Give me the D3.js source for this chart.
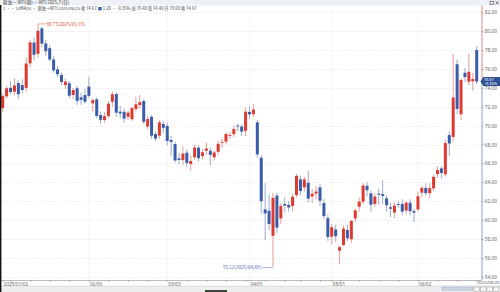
<!DOCTYPE html>
<html><head><meta charset="utf-8">
<script src="https://cdn.jsdelivr.net/npm/d3@7"></script>
<style>
html,body{margin:0;padding:0;background:#fff;}
svg{display:block;font-family:"Noto Sans CJK SC","Noto Sans",sans-serif;}
</style></head><body>
<svg id="c" width="500" height="292"></svg>
<script>
// ---------- data ----------
const dates = [
"2025-01-02","2025-01-03","2025-01-06","2025-01-07","2025-01-08","2025-01-09","2025-01-10","2025-01-13","2025-01-14","2025-01-15","2025-01-16","2025-01-17","2025-01-20","2025-01-21","2025-01-22","2025-01-23","2025-01-24","2025-01-27","2025-01-28","2025-01-29","2025-01-30","2025-01-31",
"2025-02-03","2025-02-04","2025-02-05","2025-02-06","2025-02-07","2025-02-10","2025-02-11","2025-02-12","2025-02-13","2025-02-14","2025-02-17","2025-02-18","2025-02-19","2025-02-20","2025-02-21","2025-02-24","2025-02-25","2025-02-26","2025-02-27","2025-02-28",
"2025-03-03","2025-03-04","2025-03-05","2025-03-06","2025-03-07","2025-03-10","2025-03-11","2025-03-12","2025-03-13","2025-03-14","2025-03-17","2025-03-18","2025-03-19","2025-03-20","2025-03-21","2025-03-24","2025-03-25","2025-03-26","2025-03-27","2025-03-28","2025-03-31",
"2025-04-01","2025-04-02","2025-04-03","2025-04-04","2025-04-07","2025-04-08","2025-04-09","2025-04-10","2025-04-11","2025-04-14","2025-04-15","2025-04-16","2025-04-17","2025-04-21","2025-04-22","2025-04-23","2025-04-24","2025-04-25","2025-04-28","2025-04-29","2025-04-30",
"2025-05-01","2025-05-02","2025-05-05","2025-05-06","2025-05-07","2025-05-08","2025-05-09","2025-05-12","2025-05-13","2025-05-14","2025-05-15","2025-05-16","2025-05-19","2025-05-20","2025-05-21","2025-05-22","2025-05-23","2025-05-26","2025-05-27","2025-05-28","2025-05-29","2025-05-30",
"2025-06-02","2025-06-03","2025-06-04","2025-06-05","2025-06-06","2025-06-09","2025-06-10","2025-06-11","2025-06-12","2025-06-13","2025-06-16","2025-06-17","2025-06-18","2025-06-19","2025-06-20","2025-06-23"];

const opens = [
71.85,73.10,74.00,73.60,74.50,74.30,74.00,76.60,78.80,77.60,
80.30,78.70,78.20,77.00,75.96,75.36,74.30,74.48,73.24,73.95,
73.00,73.24,74.12,72.36,72.78,71.12,70.59,71.01,72.53,73.35,
71.47,71.47,70.94,70.67,71.76,72.18,72.60,69.90,70.94,69.11,
68.93,70.17,69.96,68.47,68.05,66.53,66.35,67.13,65.93,66.64,
67.66,66.78,67.34,67.34,66.64,67.23,68.19,68.30,68.95,69.10,
70.00,69.90,69.45,71.45,71.20,70.35,66.60,61.13,60.98,58.33,
62.60,60.17,61.70,61.60,61.48,62.65,64.31,63.46,63.95,62.50,
62.80,63.46,61.80,60.20,58.23,59.00,56.75,57.35,58.94,57.96,
60.17,61.41,61.94,63.63,62.82,61.70,62.80,62.75,62.30,61.35,
60.80,61.70,61.70,61.00,61.83,60.95,61.13,62.90,63.40,62.85,
63.35,64.87,65.47,64.85,69.00,68.80,76.50,71.20,75.60,74.65,
74.70,78.00];

const highs = [
73.40,74.20,74.70,75.00,74.80,74.90,77.20,79.10,79.30,80.77,
80.50,79.10,78.50,77.40,76.30,75.60,75.00,74.70,74.00,74.20,
73.50,73.90,75.18,72.90,73.00,71.50,71.40,72.60,73.60,73.50,
72.10,71.80,71.60,72.00,73.06,73.24,72.80,71.00,71.10,69.40,
70.60,70.50,70.30,68.90,68.30,67.10,67.80,67.50,66.90,68.00,
67.90,67.50,68.20,67.70,67.40,68.40,68.60,69.30,69.40,70.00,
70.20,70.10,71.90,72.00,72.30,70.60,66.90,63.90,62.70,62.90,
62.90,61.80,62.40,62.00,62.80,64.90,64.70,64.60,65.20,63.30,
63.60,63.80,62.20,60.60,59.60,59.50,57.30,59.40,59.50,60.00,
61.20,62.40,63.90,64.00,63.10,62.80,63.30,64.20,62.60,61.80,
61.90,62.00,62.20,62.00,62.20,61.20,63.00,63.60,63.90,63.90,
64.80,65.70,65.70,68.50,69.40,77.62,77.00,75.00,76.10,77.60,
75.60,78.40];

const lows = [
71.45,72.90,73.30,73.20,72.80,73.40,73.60,76.20,76.90,77.20,
78.30,77.40,76.80,75.60,75.10,74.30,73.90,72.90,72.80,72.20,
72.20,72.30,72.90,71.50,70.80,70.20,70.30,70.80,72.00,70.90,
70.80,70.30,70.60,70.50,71.50,71.80,70.20,69.60,68.60,68.40,
68.60,69.20,67.90,66.80,66.10,65.90,65.80,65.60,65.20,66.40,
66.20,66.40,66.90,65.80,66.30,66.90,67.60,68.00,68.60,68.80,
69.40,68.90,68.90,70.70,70.90,66.60,60.70,57.90,58.90,55.12,
58.60,59.60,60.80,60.90,60.90,62.40,62.60,63.00,61.90,61.80,
62.20,61.50,60.10,57.80,57.40,57.70,55.30,57.20,57.80,57.60,
59.80,60.90,61.70,62.50,60.90,61.40,61.60,61.70,60.90,60.30,
60.20,61.30,60.50,60.60,60.50,59.80,60.90,62.40,62.60,62.30,
63.10,64.50,64.40,64.60,66.80,68.30,71.20,70.60,74.60,74.30,
73.70,74.40];

const closes = [
73.13,73.96,73.56,74.25,73.32,73.77,76.57,78.82,77.50,80.04,
78.68,77.88,77.00,75.85,75.44,74.62,74.66,73.17,73.77,72.62,
72.73,72.53,73.16,72.70,71.03,70.61,71.00,72.32,73.32,71.37,
71.29,70.74,71.37,71.85,72.25,72.48,70.40,70.70,68.93,68.62,
70.35,69.76,68.37,68.26,66.31,66.36,67.04,66.03,66.25,67.68,
66.55,67.18,67.58,66.90,67.16,68.07,68.28,69.11,69.00,69.65,
69.92,69.36,71.48,71.20,71.71,66.95,61.99,60.70,59.58,62.35,
59.20,61.50,61.53,61.33,62.47,64.68,63.08,64.31,62.27,62.79,
63.02,62.05,60.42,58.21,59.24,58.29,57.13,59.09,58.07,59.91,
61.02,61.95,63.67,63.15,61.62,62.49,62.69,62.56,61.57,61.20,
61.53,61.60,60.89,61.84,60.94,60.79,62.52,63.41,62.85,63.37,
64.58,65.29,64.98,68.15,68.10,72.98,71.77,74.84,75.14,75.70,
74.93,74.67];

const yTicks = [54,56,58,60,62,64,66,68,70,72,74,76,78,80,82];
const xLabelDates = ["2025-01-02","2025-02-03","2025-03-03","2025-04-01","2025-05-01","2025-06-02"];
const xLabelTexts = ["2025/01/02","02/03","03/03","04/01","05/01","06/02"];
const prevClose = 74.93;

// ---------- setup ----------
const svg = d3.select("#c");
const W = 500, H = 292, plotR = 482, axisY = 280;
const UP = "#dd3a31", DOWN = "#3b5ca8", UPW = "#e9928c", DOWNW = "#8ea2c8";
const x = d3.scalePoint().domain(dates).range([2.7, 476.7]);
const y = d3.scaleLinear().domain([54, 82]).range([276.7, 12.3]);
const idx = d3.range(dates.length);

svg.append("rect").attr("width", W).attr("height", H).attr("fill", "#fff");
svg.append("rect").attr("x",0).attr("y",0).attr("width",W).attr("height",5.5).attr("fill","#eef1f5");

// gridlines
svg.append("g").selectAll("line").data(yTicks).join("line")
  .attr("x1", 0).attr("x2", plotR)
  .attr("y1", d => Math.round(y(d)) + 0.5).attr("y2", d => Math.round(y(d)) + 0.5)
  .attr("stroke", "#e3e3e3").attr("stroke-width", 0.7).attr("stroke-dasharray", "1.5,1.5");
svg.append("g").selectAll("line").data(xLabelDates.slice(1)).join("line")
  .attr("x1", d => x(d)).attr("x2", d => x(d))
  .attr("y1", 11).attr("y2", axisY)
  .attr("stroke", "#e6e6e6").attr("stroke-width", 0.7).attr("stroke-dasharray", "1.5,1.5");

// candles
const cg = svg.append("g");
const isUp = i => closes[i] >= opens[i];
cg.selectAll("line.w").data(idx).join("line").attr("class","w")
  .attr("x1", i => x(dates[i])).attr("x2", i => x(dates[i]))
  .attr("y1", i => y(highs[i])).attr("y2", i => y(lows[i]))
  .attr("stroke", i => isUp(i) ? UPW : DOWNW).attr("stroke-width", 0.9);
cg.selectAll("rect.b").data(idx).join("rect").attr("class","b")
  .attr("x", i => x(dates[i]) - 1.5).attr("width", 3)
  .attr("y", i => y(Math.max(opens[i], closes[i])))
  .attr("height", i => Math.max(0.9, Math.abs(y(opens[i]) - y(closes[i]))))
  .attr("fill", i => isUp(i) ? UP : DOWN);

// max / min annotations
const iMax = d3.maxIndex(highs), iMin = d3.minIndex(lows);
const fmtD = s => s.replace(/-/g, "/");
const ax = x(dates[iMax]), ay = y(highs[iMax]);
svg.append("line").attr("x1", ax).attr("x2", ax + 8).attr("y1", ay).attr("y2", ay)
  .attr("stroke", "#e06a62").attr("stroke-width", 0.6);
svg.append("text").attr("x", ax + 8.5).attr("y", ay).attr("dy", "0.35em")
  .attr("font-size", 4.6).attr("fill", "#d9453c")
  .text(highs[iMax].toFixed(2) + "(" + fmtD(dates[iMax]) + ")");
const bx = x(dates[iMin]), by = y(lows[iMin]) + 1.5;
svg.append("line").attr("x1", bx).attr("x2", bx - 11).attr("y1", by).attr("y2", by)
  .attr("stroke", "#6f86b8").attr("stroke-width", 0.6);
svg.append("line").attr("x1", bx).attr("x2", bx).attr("y1", y(lows[iMin])).attr("y2", by)
  .attr("stroke", "#e6a19c").attr("stroke-width", 0.6);
svg.append("text").attr("x", bx - 11.5).attr("y", by).attr("dy", "0.35em")
  .attr("text-anchor", "end").attr("font-size", 4.6).attr("fill", "#5570aa")
  .text(lows[iMin].toFixed(2) + "(" + fmtD(dates[iMin]) + ")");

// right y axis
const last = closes[closes.length - 1];
svg.append("line").attr("x1", plotR).attr("x2", plotR).attr("y1", 5.5).attr("y2", y(last))
  .attr("stroke", "#e48a84").attr("stroke-width", 1);
svg.append("line").attr("x1", plotR).attr("x2", plotR).attr("y1", y(last)).attr("y2", axisY)
  .attr("stroke", "#8ea2c8").attr("stroke-width", 1);
const yAxis = svg.append("g").attr("transform", `translate(${plotR},0)`)
  .call(d3.axisRight(y).tickValues(yTicks).tickSize(1.5).tickPadding(1.2).tickFormat(d3.format(".2f")));
yAxis.select(".domain").remove();
yAxis.selectAll("line").attr("stroke", "#999");
yAxis.selectAll("text").attr("font-size", 4.8).attr("fill", "#666")
  .attr("font-family", '"Noto Sans","Noto Sans CJK SC",sans-serif');

// current price label
const ly = y(last);
svg.append("path").attr("d", `M${plotR - 1.5},${ly} L${plotR + 1},${ly - 4} L${plotR + 1},${ly + 4} Z`).attr("fill", "#2e5294");
svg.append("rect").attr("x", plotR + 1).attr("y", ly - 4.5).attr("width", W - plotR - 1).attr("height", 9).attr("fill", "#2e5294");
svg.append("text").attr("x", plotR + 2).attr("y", ly - 1.8).attr("dy", "0.35em")
  .attr("font-size", 3.8).attr("fill", "#fff").text(last.toFixed(2));
svg.append("text").attr("x", plotR + 2).attr("y", ly + 2.2).attr("dy", "0.35em")
  .attr("font-size", 3.8).attr("fill", "#fff")
  .text(d3.format("+.2%")((last - prevClose) / prevClose));

// x axis
const weekStarts = dates.filter((d, i) => i === 0 ||
  new Date(d + "T00:00:00Z").getUTCDay() < new Date(dates[i - 1] + "T00:00:00Z").getUTCDay());
const tickDates = dates.filter(d => weekStarts.includes(d) || xLabelDates.includes(d));
svg.append("line").attr("x1", 0).attr("x2", plotR).attr("y1", axisY + 0.5).attr("y2", axisY + 0.5)
  .attr("stroke", "#aaa").attr("stroke-width", 0.8);
const xAxis = svg.append("g").attr("transform", `translate(0,${axisY})`)
  .call(d3.axisBottom(x).tickValues(tickDates).tickSize(2).tickPadding(0.5)
    .tickFormat(d => { const k = xLabelDates.indexOf(d); return k >= 0 ? xLabelTexts[k] : ""; }));
xAxis.select(".domain").remove();
xAxis.selectAll("line").attr("stroke", "#999").attr("stroke-width", 0.6);
xAxis.selectAll("text").attr("font-size", 4.6).attr("fill", "#555").attr("text-anchor", "start").attr("dx", 0.6)
  .attr("font-family", '"Noto Sans","Noto Sans CJK SC",sans-serif');
svg.append("text").attr("x", 499.5).attr("y", axisY + 4.4).attr("text-anchor", "end")
  .attr("font-size", 4.2).attr("fill", "#555")
  .attr("font-family", '"Noto Sans","Noto Sans CJK SC",sans-serif')
  .text(fmtD(dates[dates.length - 1]));

// bottom scrollbar
svg.append("rect").attr("x", 0).attr("y", 286).attr("width", W).attr("height", 6).attr("fill", "#eeeeee");
svg.append("line").attr("x1", 0).attr("x2", W).attr("y1", 286).attr("y2", 286).attr("stroke", "#cfcfcf").attr("stroke-width", 0.6);
svg.append("rect").attr("x", 442).attr("y", 287).attr("width", 31).attr("height", 3.5).attr("fill", "#c9d4e3").attr("stroke", "#9fb0c8").attr("stroke-width", 0.4);
[474, 480.5, 487, 493.5].forEach(bxp => {
  svg.append("rect").attr("x", bxp).attr("y", 287).attr("width", 5.5).attr("height", 4.5).attr("fill", "#f7f7f7").attr("stroke", "#888").attr("stroke-width", 0.4);
});
svg.append("rect").attr("x", 205).attr("y", 290).attr("width", 22).attr("height", 2).attr("fill", "#3c4a3c");

// left border
svg.append("rect").attr("x", 0).attr("y", 5).attr("width", 1.4).attr("height", H - 5).attr("fill", "#111");

// header texts
svg.append("text").attr("x", 3).attr("y", 4.3).attr("font-size", 4.4).attr("fill", "#333")
  .text("原油 — WTI(原) — WTI 2025,7 (日)");
const hdr = svg.append("text").attr("x", 3).attr("y", 9.6).attr("font-size", 4.2).attr("fill", "#444");
hdr.append("tspan").attr("fill", "#3b5ca8").text("1 ·· ");
hdr.append("tspan").text("10MA(5) · 原油→WTI 2025/06/23 收 " + last.toFixed(2) + " ");
hdr.append("tspan").attr("fill", "#3b5ca8").text("■ ");
hdr.append("tspan").text("1.20 · -0.35% 高 78.40 低 74.40 开 78.00 收 " + last.toFixed(2));

// top-right icons
svg.append("rect").attr("x", 490).attr("y", 1.2).attr("width", 3.5).attr("height", 3.2).attr("fill", "none").attr("stroke", "#444").attr("stroke-width", 0.6);
svg.append("path").attr("d", "M495.5,1.2 L498.8,4.4 M498.8,1.2 L495.5,4.4").attr("stroke", "#444").attr("stroke-width", 0.7);
</script></body></html>
